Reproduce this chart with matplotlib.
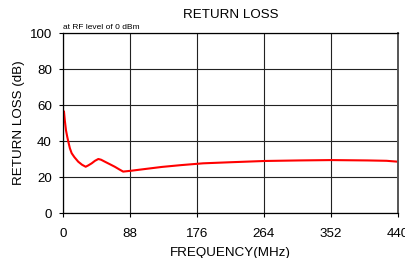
import matplotlib
matplotlib.use("Agg")
from matplotlib import pyplot as plt

# return loss curve
freq_mhz = [1.3, 2.5, 3.9, 5.5, 7, 9, 11.4, 15, 20, 25, 29.8, 33, 37.7, 42, 46.4, 50,
            55, 62, 68, 74, 79, 90, 107, 130, 155, 184, 220, 265, 310, 352, 400, 425, 440]
return_loss_db = [56.3, 51, 46, 42.5, 39.6, 36, 33.2, 31, 28.5, 26.8, 25.7, 26.4, 27.6, 29, 30, 29.6,
                  28.5, 27, 25.7, 24.2, 23, 23.5, 24.4, 25.6, 26.6, 27.6, 28.2, 28.9, 29.2, 29.4, 29.2, 29.0, 28.5]

x_ticks = [0, 88, 176, 264, 352, 440]
y_ticks = [0, 20, 40, 60, 80, 100]

plt.rcParams['font.family'] = ['Liberation Sans', 'DejaVu Sans']

fig = plt.figure(figsize=(4.06, 2.58), dpi=100)
ax = fig.add_axes([63 / 406, 1 - 213 / 258, 335 / 406, 180 / 258])

ax.plot(freq_mhz, return_loss_db, color='#ff0000', lw=1.5)

ax.set_xlim(0, 440)
ax.set_ylim(0, 100)
ax.set_xticks(x_ticks)
ax.set_yticks(y_ticks)
ax.tick_params(direction='out', length=3, width=0.8, labelsize=9.6)
ax.tick_params(axis='x', pad=8)
ax.tick_params(axis='y', pad=5)
ax.grid(True, color='#222222', lw=0.8)
for s in ax.spines.values():
    s.set_color('black')
    s.set_linewidth(0.9)
ax.spines['right'].set_color('#555555')
ax.spines['right'].set_linewidth(1.4)

# the "440" label is cut by the right edge in the original too
ax.set_xlabel('FREQUENCY(MHz)', fontsize=9.6, labelpad=5)
ax.set_ylabel('RETURN LOSS (dB)', fontsize=9.6, labelpad=3)
ax.set_title('RETURN LOSS', fontsize=9.6, pad=11)
ax.text(0, 1.012, 'at RF level of 0 dBm', transform=ax.transAxes, fontsize=6, ha='left', va='bottom')

fig.savefig('out.png', dpi=100)
